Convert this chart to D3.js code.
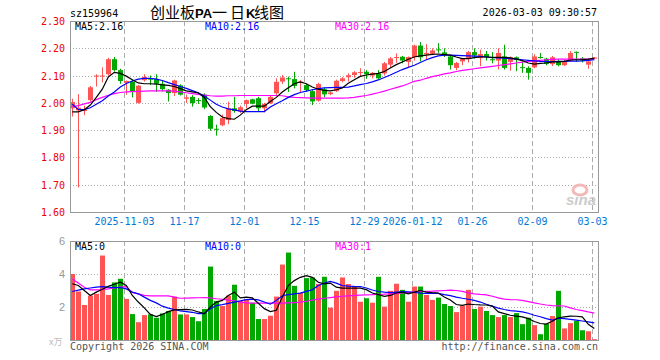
<!DOCTYPE html>
<html>
<head>
<meta charset="utf-8">
<script src="https://cdn.jsdelivr.net/npm/d3@7"></script>
<style>
body { margin: 0; background: #fff; }
text { font-family: "DejaVu Sans Mono", monospace; font-size: 10px; }
</style>
</head>
<body>
<div id="chart"></div>
<script>
var dates = [
    "2025-10-21","2025-10-22","2025-10-23","2025-10-24","2025-10-27","2025-10-28","2025-10-29","2025-10-30","2025-10-31",
    "2025-11-03","2025-11-04","2025-11-05","2025-11-06","2025-11-07","2025-11-10","2025-11-11","2025-11-12","2025-11-13","2025-11-14",
    "2025-11-17","2025-11-18","2025-11-19","2025-11-20","2025-11-21","2025-11-24","2025-11-25","2025-11-26","2025-11-27","2025-11-28",
    "2025-12-01","2025-12-02","2025-12-03","2025-12-04","2025-12-05","2025-12-08","2025-12-09","2025-12-10","2025-12-11","2025-12-12",
    "2025-12-15","2025-12-16","2025-12-17","2025-12-18","2025-12-19","2025-12-22","2025-12-23","2025-12-24","2025-12-25","2025-12-26",
    "2025-12-29","2025-12-30","2025-12-31",
    "2026-01-05","2026-01-06","2026-01-07","2026-01-08","2026-01-09","2026-01-12","2026-01-13","2026-01-14","2026-01-15","2026-01-16",
    "2026-01-19","2026-01-20","2026-01-21","2026-01-22","2026-01-23","2026-01-26","2026-01-27","2026-01-28","2026-01-29","2026-01-30",
    "2026-02-02","2026-02-03","2026-02-04","2026-02-05","2026-02-06","2026-02-09","2026-02-10","2026-02-11","2026-02-12","2026-02-13",
    "2026-02-24","2026-02-25","2026-02-26","2026-02-27","2026-03-02","2026-03-03"
]

var open = [1.98,1.972,1.97,2.01,2.098,2.097,2.105,2.16,2.12,2.073,2.078,2.0,2.083,2.089,2.088,2.07,2.048,2.036,2.064,2.015,
    2.022,2.01,2.03,1.952,1.905,1.918,1.937,1.98,1.968,1.996,2.013,2.017,1.98,1.998,2.035,2.078,2.09,2.087,2.075,2.065,
    2.043,2.008,2.05,2.032,2.043,2.08,2.094,2.102,2.11,2.114,2.10,2.108,2.108,2.14,2.165,2.169,2.15,2.168,2.21,2.178,
    2.18,2.196,2.185,2.17,2.128,2.152,2.162,2.186,2.164,2.179,2.16,2.155,2.17,2.15,2.167,2.131,2.128,2.13,2.168,2.162,
    2.142,2.15,2.138,2.155,2.187,2.163,2.14,2.163]
var high = [2.015,2.032,1.99,2.062,2.105,2.13,2.165,2.168,2.125,2.082,2.085,2.065,2.105,2.10,2.105,2.08,2.05,2.085,2.068,2.03,
    2.028,2.017,2.035,1.955,1.92,1.957,2.004,2.022,1.99,2.012,2.015,2.022,2.0,2.028,2.09,2.102,2.096,2.114,2.083,2.07,
    2.05,2.074,2.055,2.04,2.085,2.095,2.108,2.116,2.127,2.12,2.113,2.12,2.15,2.168,2.181,2.172,2.17,2.213,2.223,2.215,
    2.2,2.219,2.2,2.172,2.15,2.165,2.19,2.2,2.195,2.19,2.186,2.2,2.213,2.17,2.17,2.152,2.134,2.178,2.183,2.165,
    2.172,2.16,2.158,2.19,2.188,2.168,2.155,2.168]
var low = [1.95,1.69,1.955,2.005,2.06,2.075,2.10,2.115,2.07,2.03,2.02,1.997,2.078,2.065,2.04,2.042,2.005,2.025,2.027,2.0,
    1.986,1.996,1.977,1.898,1.88,1.914,1.922,1.964,1.963,1.98,1.995,1.967,1.965,1.996,2.029,2.069,2.04,2.053,2.037,2.04,
    1.992,2.004,2.02,2.028,2.04,2.075,2.078,2.092,2.097,2.088,2.09,2.085,2.10,2.128,2.147,2.145,2.13,2.155,2.152,2.158,
    2.175,2.183,2.168,2.122,2.12,2.138,2.148,2.162,2.134,2.155,2.145,2.122,2.122,2.118,2.116,2.11,2.085,2.127,2.162,2.138,
    2.135,2.134,2.135,2.15,2.15,2.148,2.125,2.16]
var close = [2.003,1.982,1.975,2.057,2.10,2.10,2.16,2.12,2.08,2.08,2.043,2.063,2.095,2.085,2.07,2.05,2.036,2.082,2.03,2.02,
    1.999,2.007,1.983,1.905,1.903,1.944,1.98,1.97,1.984,2.01,1.997,1.98,1.996,2.022,2.077,2.093,2.087,2.062,2.078,2.047,
    2.005,2.069,2.031,2.038,2.081,2.09,2.101,2.112,2.113,2.105,2.11,2.09,2.145,2.163,2.168,2.155,2.168,2.21,2.167,2.183,
    2.192,2.193,2.175,2.138,2.146,2.162,2.186,2.174,2.179,2.167,2.156,2.183,2.128,2.167,2.159,2.129,2.11,2.17,2.166,2.143,
    2.167,2.138,2.152,2.183,2.185,2.155,2.152,2.166]

var ma5 = [1.967,1.967,1.975,1.992,2.02,2.05,2.095,2.112,2.108,2.098,2.085,2.073,2.07,2.07,2.069,2.066,2.064,2.06,2.052,2.044,
    2.04,2.036,2.02,1.986,1.965,1.948,1.942,1.94,1.955,1.975,1.988,1.988,1.988,2.005,2.02,2.04,2.055,2.07,2.077,2.07,
    2.058,2.05,2.046,2.044,2.048,2.055,2.072,2.085,2.097,2.102,2.105,2.108,2.115,2.128,2.14,2.15,2.16,2.168,2.172,2.175,
    2.178,2.179,2.177,2.175,2.168,2.162,2.162,2.166,2.168,2.168,2.167,2.167,2.167,2.165,2.16,2.155,2.146,2.142,2.145,2.146,
    2.15,2.15,2.152,2.157,2.158,2.158,2.16,2.164]
var ma10 = [1.995,1.976,1.975,1.982,1.995,2.008,2.025,2.04,2.058,2.071,2.08,2.087,2.09,2.09,2.087,2.082,2.074,2.067,2.06,2.053,
    2.045,2.037,2.025,2.01,1.995,1.985,1.978,1.974,1.97,1.968,1.968,1.968,1.968,1.985,1.997,2.008,2.02,2.03,2.038,2.043,
    2.048,2.052,2.055,2.056,2.057,2.057,2.058,2.062,2.067,2.071,2.077,2.084,2.093,2.102,2.112,2.122,2.13,2.138,2.148,2.158,
    2.166,2.172,2.175,2.175,2.174,2.173,2.172,2.171,2.17,2.168,2.166,2.165,2.164,2.162,2.16,2.158,2.156,2.154,2.152,2.151,
    2.151,2.152,2.152,2.153,2.153,2.154,2.156,2.158]
var ma30 = [1.986,1.99,1.996,2.002,2.012,2.02,2.028,2.034,2.038,2.04,2.041,2.042,2.043,2.044,2.044,2.044,2.044,2.043,2.04,2.037,
    2.034,2.031,2.028,2.026,2.025,2.025,2.026,2.026,2.027,2.027,2.027,2.027,2.027,2.027,2.027,2.026,2.022,2.02,2.019,2.018,
    2.017,2.017,2.017,2.017,2.017,2.017,2.018,2.02,2.024,2.027,2.032,2.037,2.043,2.05,2.056,2.062,2.07,2.079,2.083,2.09,
    2.096,2.101,2.106,2.11,2.115,2.119,2.122,2.125,2.128,2.131,2.134,2.137,2.14,2.143,2.146,2.149,2.152,2.154,2.156,2.158,
    2.159,2.16,2.16,2.16,2.16,2.16,2.16,2.16]

var volume = [4.0,2.94,2.12,2.69,2.8,5.12,2.73,3.49,3.71,2.49,1.57,1.08,1.51,1.55,1.35,1.61,1.76,2.63,1.55,1.55,
    1.39,1.14,1.88,4.45,2.37,2.06,2.69,3.35,2.37,2.43,2.26,1.27,1.27,1.47,2.63,4.57,5.3,3.28,2.86,3.75,
    3.79,3.39,3.83,1.96,2.98,3.79,3.39,3.24,2.32,2.53,2.26,3.83,2.02,2.98,3.41,3.04,2.32,3.24,3.24,2.73,
    2.43,2.57,2.18,2.06,1.69,2.08,3.04,1.88,2.02,1.76,1.51,1.39,1.51,1.39,1.63,0.96,1.35,0.9,0.35,0.98,
    1.45,2.98,0.7,1.02,1.16,0.59,0.53,0.05]
var vma5 = [3.41,3.3,3.0,2.7,2.9,3.08,3.25,3.38,3.5,3.3,2.7,2.3,1.95,1.55,1.42,1.55,1.72,1.82,1.84,1.86,
    1.82,1.7,1.6,2.0,2.3,2.4,2.7,2.9,2.55,2.6,2.55,2.23,1.9,1.72,1.8,2.6,3.3,3.6,3.8,3.9,
    3.8,3.5,3.4,3.45,3.2,3.14,3.14,3.14,3.14,3.05,2.85,2.75,2.65,2.7,2.85,2.9,2.8,2.9,3.0,2.9,
    2.87,2.85,2.6,2.43,2.15,2.1,2.18,2.15,2.13,2.12,2.05,1.7,1.6,1.5,1.45,1.4,1.3,1.12,1.0,0.96,
    1.14,1.35,1.4,1.45,1.44,1.4,0.95,0.7]
var vma10 = [2.94,3.02,3.1,3.15,3.2,3.24,3.2,3.18,3.18,3.1,2.9,2.8,2.6,2.4,2.25,2.05,1.93,1.85,1.76,1.72,
    1.68,1.6,1.6,1.9,2.08,2.14,2.22,2.3,2.37,2.45,2.48,2.43,2.3,2.17,2.4,2.68,2.75,2.8,2.84,2.95,
    3.04,3.3,3.45,3.55,3.45,3.3,3.27,3.25,3.24,3.15,3.03,2.94,2.9,2.87,2.9,2.93,2.92,2.88,2.84,2.83,
    2.82,2.82,2.75,2.69,2.6,2.53,2.47,2.4,2.3,2.17,2.05,1.93,1.85,1.78,1.75,1.7,1.62,1.5,1.41,1.3,
    1.2,1.32,1.3,1.25,1.2,1.15,1.1,1.04]
var vma30 = [3.69,3.45,3.2,3.04,3.04,3.06,3.1,3.15,3.2,3.24,2.88,2.8,2.7,2.67,2.67,2.67,2.67,2.6,2.53,2.54,
    2.55,2.56,2.57,2.55,2.5,2.47,2.42,2.37,2.3,2.25,2.23,2.23,2.23,2.23,2.23,2.23,2.25,2.27,2.29,2.35,
    2.42,2.48,2.53,2.57,2.61,2.65,2.68,2.7,2.72,2.74,2.75,2.77,2.78,2.8,2.83,2.86,2.89,2.92,2.94,2.95,
    2.96,2.98,3.0,3.02,3.0,2.95,2.86,2.8,2.76,2.73,2.65,2.55,2.48,2.45,2.44,2.4,2.33,2.25,2.18,2.12,
    2.08,2.07,2.06,1.95,1.85,1.78,1.7,1.63]

var tickDates = ["2025-11-03","2025-11-17","2025-12-01","2025-12-15","2025-12-29","2026-01-12","2026-01-26","2026-02-09","2026-03-03"]
var tickLabels = ["2025-11-03","11-17","12-01","12-15","12-29","2026-01-12","01-26","02-09","03-03"]
var priceTicks = [1.6, 1.7, 1.8, 1.9, 2.0, 2.1, 2.2, 2.3]
var volTicks = [2, 4, 6]
var priceMaLabels = ["MA5:2.16", "MA10:2.16", "MA30:2.16"]
var volMaLabels = ["MA5:0", "MA10:0", "MA30:1"]

var width = 660
var height = 360
var left = 70
var right = 598
var red = "#ff5454"
var green = "#00a800"
var grid = "#aaaaaa"
var maColors = ["#000000", "#0000ff", "#ff00ff"]

var svg = d3.select("#chart").append("svg")
    .attr("width", width)
    .attr("height", height)

var x = d3.scaleBand().domain(dates).range([69.3, 597.3])
var y = d3.scaleLinear().domain([1.6, 2.3]).range([212, 21])
var yv = d3.scaleLinear().domain([0, 6]).range([340, 241])

function cx(i) { return x(dates[i]) + x.bandwidth() / 2 }
function up(i) { return close[i] >= open[i] }

// grid lines
priceTicks.forEach(function(t) {
    svg.append("line")
        .attr("x1", left).attr("x2", right)
        .attr("y1", Math.round(y(t)) + 0.5).attr("y2", Math.round(y(t)) + 0.5)
        .attr("stroke", grid).attr("stroke-dasharray", "1,2")
    svg.append("text")
        .attr("x", 65).attr("y", y(t) + 4)
        .attr("text-anchor", "end")
        .attr("fill", "#ee0000")
        .text(t.toFixed(2))
})
volTicks.forEach(function(t) {
    svg.append("line")
        .attr("x1", left).attr("x2", right)
        .attr("y1", Math.round(yv(t)) + 0.5).attr("y2", Math.round(yv(t)) + 0.5)
        .attr("stroke", grid).attr("stroke-dasharray", "1,2")
    svg.append("text")
        .attr("x", 65).attr("y", yv(t) + 4)
        .attr("text-anchor", "end")
        .attr("fill", "#999")
        .style("font-family", "'Liberation Sans', sans-serif")
        .style("font-size", "11px")
        .text(t)
})
tickDates.forEach(function(d, k) {
    var gx = Math.round(x(d) + 1) + 0.5
    svg.append("line")
        .attr("x1", gx).attr("x2", gx).attr("y1", 21).attr("y2", 212)
        .attr("stroke", grid).attr("stroke-dasharray", "5,3")
    svg.append("line")
        .attr("x1", gx).attr("x2", gx).attr("y1", 241).attr("y2", 340)
        .attr("stroke", grid).attr("stroke-dasharray", "5,3")
    svg.append("text")
        .attr("x", gx).attr("y", 225)
        .attr("text-anchor", "middle")
        .attr("fill", "#0078d7")
        .text(tickLabels[k])
})

// sina logo
svg.append("ellipse")
    .attr("cx", 580).attr("cy", 190).attr("rx", 7).attr("ry", 5)
    .attr("fill", "none").attr("stroke", "#f4b8b8").attr("stroke-width", 3)
svg.append("text")
    .attr("x", 566).attr("y", 205)
    .attr("fill", "#cccccc")
    .style("font-family", "'Liberation Sans', sans-serif")
    .style("font-size", "15px").style("font-weight", "bold").style("font-style", "italic")
    .text("sina")

// candles
var idx = d3.range(dates.length)
svg.append("g").selectAll("line").data(idx).join("line")
    .attr("x1", function(i) { return Math.round(cx(i)) + 0.5 })
    .attr("x2", function(i) { return Math.round(cx(i)) + 0.5 })
    .attr("y1", function(i) { return y(high[i]) })
    .attr("y2", function(i) { return y(low[i]) })
    .attr("stroke", function(i) { return up(i) ? red : green })
svg.append("g").selectAll("rect").data(idx).join("rect")
    .attr("x", function(i) { return Math.round(cx(i)) - 2 })
    .attr("width", 5)
    .attr("y", function(i) { return y(Math.max(open[i], close[i])) })
    .attr("height", function(i) { return Math.max(1, Math.abs(y(open[i]) - y(close[i]))) })
    .attr("fill", function(i) { return up(i) ? red : green })

// volume bars
svg.append("g").selectAll("rect").data(idx).join("rect")
    .attr("x", function(i) { return Math.round(cx(i)) - 2 })
    .attr("width", 5)
    .attr("y", function(i) { return yv(volume[i]) })
    .attr("height", function(i) { return 340 - yv(volume[i]) })
    .attr("fill", function(i) { return up(i) ? red : green })

function drawLine(values, scale, color) {
    var line = d3.line()
        .x(function(v, i) { return cx(i) })
        .y(function(v) { return scale(v) })
    svg.append("path")
        .attr("d", line(values))
        .attr("fill", "none")
        .attr("stroke", color)
        .attr("stroke-width", 1.2)
}
drawLine(ma30, y, maColors[2])
drawLine(ma10, y, maColors[1])
drawLine(ma5, y, maColors[0])
drawLine(vma30, yv, maColors[2])
drawLine(vma10, yv, maColors[1])
drawLine(vma5, yv, maColors[0])

// frames
svg.append("rect").attr("x", left + 0.5).attr("y", 21.5).attr("width", right - left).attr("height", 191)
    .attr("fill", "none").attr("stroke", "#999")
svg.append("rect").attr("x", left + 0.5).attr("y", 241.5).attr("width", right - left).attr("height", 99)
    .attr("fill", "none").attr("stroke", "#999")

// labels
var labelX = [75, 205, 335]
priceMaLabels.forEach(function(t, k) {
    svg.append("text").attr("x", labelX[k]).attr("y", 30).attr("fill", maColors[k]).text(t)
})
volMaLabels.forEach(function(t, k) {
    svg.append("text").attr("x", labelX[k]).attr("y", 250).attr("fill", maColors[k]).text(t)
})
svg.append("text").attr("x", 70).attr("y", 17).text("sz159964")
svg.append("text").attr("x", 597).attr("y", 16).attr("text-anchor", "end").text("2026-03-03 09:30:57")

// title as one text, one tspan per run of glyphs
var title = svg.append("text").attr("y", 18)
    .style("font-family", "'Noto Sans CJK SC', sans-serif").style("font-size", "15px")
function titlePart(txt, tx, latin) {
    var t = title.append("tspan").attr("x", tx)
    if (latin) {
        t.style("font-family", "'Liberation Sans Narrow', 'Liberation Sans', sans-serif")
            .style("font-size", "13px").style("font-weight", "bold")
    }
    t.text(txt)
}
titlePart("创业板", 150, false)
titlePart("PA", 195, true)
titlePart("一", 212, false)
titlePart("日", 230, false)
titlePart("K", 246, true)
titlePart("线图", 254, false)

svg.append("text").attr("x", 70).attr("y", 350).attr("fill", "#555").text("Copyright 2026 SINA.COM")
svg.append("text").attr("x", 598).attr("y", 350).attr("text-anchor", "end").attr("fill", "#555")
    .text("http://finance.sina.com.cn")
svg.append("text").attr("x", 49).attr("y", 345).attr("fill", "#bbb")
    .style("font-family", "'Noto Sans CJK SC', sans-serif").style("font-size", "9px")
    .text("x万")
</script>
</body>
</html>
